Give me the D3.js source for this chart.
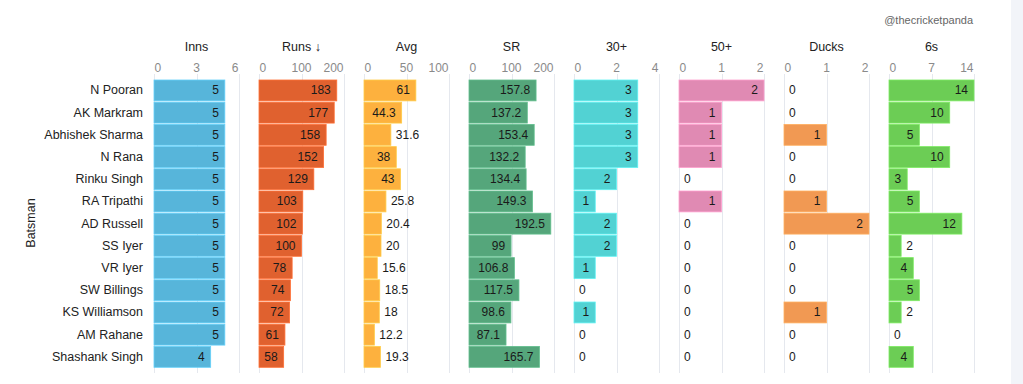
<!DOCTYPE html>
<html>
<head>
<meta charset="utf-8">
<script src="https://cdn.jsdelivr.net/npm/d3@7"></script>
<style>
  body { margin: 0; background: #fff; }
  svg { display: block; font-family: "Liberation Sans", Arial, sans-serif; }
</style>
</head>
<body>
<div id="chart"></div>
<script>
// batsmen, in the sorted order of the picture (Runs descending)
const batsmen = ["N Pooran", "AK Markram", "Abhishek Sharma", "N Rana", "Rinku Singh",
  "RA Tripathi", "AD Russell", "SS Iyer", "VR Iyer", "SW Billings", "KS Williamson",
  "AM Rahane", "Shashank Singh"]

const inns   = [5, 5, 5, 5, 5, 5, 5, 5, 5, 5, 5, 5, 4]
const runs   = [183, 177, 158, 152, 129, 103, 102, 100, 78, 74, 72, 61, 58]
const avg    = [61, 44.3, 31.6, 38, 43, 25.8, 20.4, 20, 15.6, 18.5, 18, 12.2, 19.3]
const sr     = [157.8, 137.2, 153.4, 132.2, 134.4, 149.3, 192.5, 99, 106.8, 117.5, 98.6, 87.1, 165.7]
const thirty = [3, 3, 3, 3, 2, 1, 2, 2, 1, 0, 1, 0, 0]
const fifty  = [2, 1, 1, 1, 0, 1, 0, 0, 0, 0, 0, 0, 0]
const ducks  = [0, 0, 1, 0, 0, 1, 2, 0, 0, 0, 1, 0, 0]
const sixes  = [14, 10, 5, 10, 3, 5, 12, 2, 4, 5, 2, 0, 4]

const columnTitles = ["Inns", "Runs \u2193", "Avg", "SR", "30+", "50+", "Ducks", "6s"]
const columnTicks = [[0, 3, 6], [0, 100, 200], [0, 50, 100], [0, 100, 200],
  [0, 2, 4], [0, 1, 2], [0, 1, 2], [0, 7, 14]]
const columnValues = [inns, runs, avg, sr, thirty, fifty, ducks, sixes]
const columnColors = ["#57b5da", "#e0612f", "#fdb13e", "#55a67b", "#52d2d3",
  "#e08ab3", "#f19953", "#6ccd55"]

const W = 1023, H = 384
const panelLeft = 154, panelStep = 105, panelWidth = 85
const gridTop = 74, gridBottom = 373

const svg = d3.select("#chart").append("svg")
    .attr("width", W)
    .attr("height", H)

// light strip on the right edge
svg.append("rect")
    .attr("x", 1011).attr("y", 0)
    .attr("width", W - 1011).attr("height", H)
    .attr("fill", "#f2f4f9")

svg.append("text")
    .attr("x", 973).attr("y", 21)
    .attr("text-anchor", "end")
    .attr("dominant-baseline", "middle")
    .attr("font-size", 11)
    .attr("fill", "#666")
    .text("@thecricketpanda")

const yScale = d3.scaleBand()
    .domain(batsmen)
    .range([80, 367.3])
    .paddingInner(0.06)

// row labels
svg.append("g")
  .selectAll("text")
  .data(batsmen)
  .join("text")
    .attr("x", 143)
    .attr("y", d => yScale(d) + yScale.bandwidth() / 2)
    .attr("text-anchor", "end")
    .attr("dominant-baseline", "central")
    .attr("font-size", 12.5)
    .attr("fill", "#222")
    .text(d => d)

svg.append("text")
    .attr("transform", "translate(31,223) rotate(-90)")
    .attr("text-anchor", "middle")
    .attr("dominant-baseline", "central")
    .attr("font-size", 12.5)
    .attr("fill", "#222")
    .text("Batsman")

columnValues.forEach(function(values, i) {
  var x0 = panelLeft + i * panelStep
  var ticks = columnTicks[i]
  var xScale = d3.scaleLinear()
      .domain([0, ticks[ticks.length - 1]])
      .range([x0, x0 + panelWidth])

  var g = svg.append("g").attr("class", "panel")

  // grid lines
  g.selectAll("line.grid")
    .data(ticks)
    .join("line")
      .attr("class", "grid")
      .attr("x1", d => Math.round(xScale(d)) + 0.5)
      .attr("x2", d => Math.round(xScale(d)) + 0.5)
      .attr("y1", gridTop)
      .attr("y2", gridBottom)
      .attr("stroke", "#e5e8ee")

  // tick labels: first flush left, last flush right
  g.selectAll("text.tick")
    .data(ticks)
    .join("text")
      .attr("class", "tick")
      .attr("x", (d, j) => xScale(d) + (j === 0 ? 0.5 : j === ticks.length - 1 ? -0.5 : 0))
      .attr("y", 68)
      .attr("text-anchor", (d, j) => j === 0 ? "start" : j === ticks.length - 1 ? "end" : "middle")
      .attr("dominant-baseline", "central")
      .attr("font-size", 12)
      .attr("fill", "#8a8a8a")
      .text(d => d)

  g.append("text")
      .attr("x", x0 + panelWidth / 2)
      .attr("y", 47)
      .attr("text-anchor", "middle")
      .attr("dominant-baseline", "central")
      .attr("font-size", 12.5)
      .attr("fill", "#222")
      .text(columnTitles[i])

  var rows = batsmen.map((name, j) => ({ name: name, value: values[j] }))
  var color = columnColors[i]

  g.selectAll("rect.bar")
    .data(rows.filter(d => d.value > 0))
    .join("rect")
      .attr("class", "bar")
      .attr("x", x0)
      .attr("y", d => yScale(d.name))
      .attr("width", d => xScale(d.value) - x0)
      .attr("height", yScale.bandwidth())
      .attr("fill", color)
      .attr("stroke", d3.color(color).brighter(0.4))
      .attr("stroke-width", 0.8)

  var labels = g.selectAll("text.value")
    .data(rows)
    .join("text")
      .attr("class", "value")
      .attr("y", d => yScale(d.name) + yScale.bandwidth() / 2)
      .attr("dominant-baseline", "central")
      .attr("font-size", 12)
      .attr("fill", "#1a1a1a")
      .text(d => d.value)

  // put label inside the bar when it fits, else just after it
  labels.each(function(d) {
    var tw = this.getComputedTextLength()
    var bw = xScale(d.value) - x0
    var sel = d3.select(this)
    if (bw >= tw + 10) {
      sel.attr("x", xScale(d.value) - 6).attr("text-anchor", "end")
    } else {
      sel.attr("x", xScale(d.value) + 5).attr("text-anchor", "start")
    }
  })
})
</script>
</body>
</html>
